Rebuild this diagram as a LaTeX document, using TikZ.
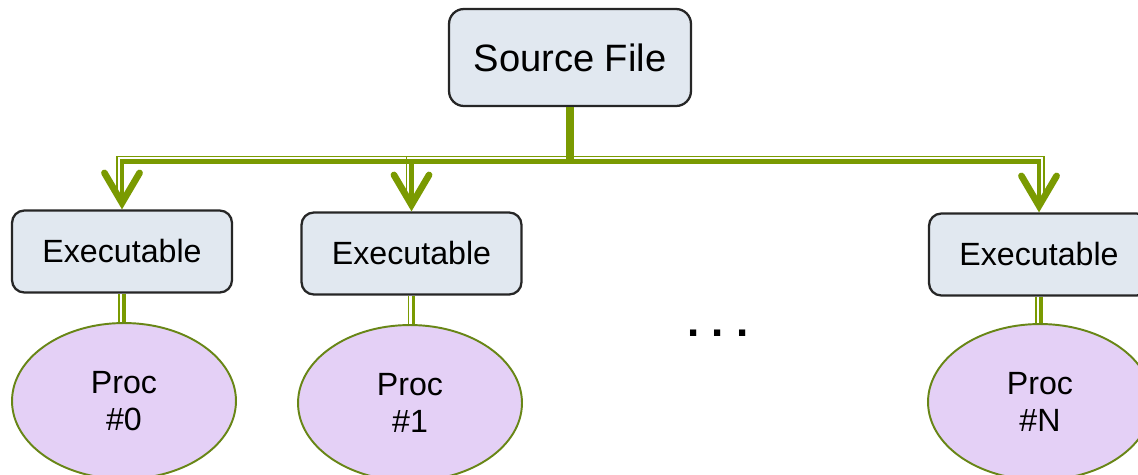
\documentclass[tikz,border=0pt]{standalone}
\usepackage{fontspec}
\setmainfont{Liberation Sans}
\usetikzlibrary{arrows.meta,shapes.geometric,calc}
\definecolor{boxfill}{RGB}{225,232,240}
\definecolor{procfill}{RGB}{228,208,246}
\definecolor{linkgreen}{RGB}{122,154,1}
\definecolor{rimgreen}{RGB}{104,134,22}
\begin{document}
\begin{tikzpicture}[x=0.02cm,y=-0.02cm,
  filebox/.style={draw=black!85, line width=1.3pt, fill=boxfill, inner sep=0pt},
  srcbox/.style={filebox, rounded corners=8.5pt, minimum width=4.84cm, minimum height=1.94cm,
    font=\fontsize{21.7}{26}\selectfont},
  exebox/.style={filebox, rounded corners=7pt, minimum width=4.4cm, minimum height=1.64cm,
    font=\fontsize{18.3}{21}\selectfont},
  procnode/.style={ellipse, draw=rimgreen, line width=1.1pt, fill=procfill,
    minimum width=4.48cm, minimum height=3.12cm, inner sep=0pt, align=center,
    font=\fontsize{18.3}{21}\selectfont},
  trunk/.style={draw=linkgreen, line width=4pt},
  branch/.style={draw=linkgreen, line width=2.4pt,
    -{Straight Barb[length=17pt,width=20pt,line width=3.8pt,line cap=round,line join=miter]}},
  rail/.style={draw=linkgreen, line width=0.8pt},
  stem/.style={draw=linkgreen, line width=2.2pt},
]
\useasboundingbox (0,0) rectangle (1138,474);

% processes (drawn first so the boxes sit on top)
\node[procnode] (p1) at (124,401) {Proc\\\#0};
\node[procnode] (p2) at (410,403) {Proc\\\#1};
\node[procnode] (p3) at (1040,402) {Proc\\\#N};

% source and executables
\node[srcbox] (src) at (570,57.5) {Source File};
\node[exebox] (e1) at (122,251.5) {Executable};
\node[exebox] (e2) at (411.5,253.5) {Executable};
\node[exebox] (e3) at (1039,254.5) {Executable};

% distribution tree
\coordinate (hub) at (570,161.5);
\draw[rail] ($(hub)+(-4,-5)$) -| ($(e1.north)+(-5,-14)$);
\draw[rail] ($(hub)+(-4,-5)$) -| ($(e2.north)+(-5,-14)$);
\draw[rail] ($(hub)+(4,-5)$) -| ($(e3.north)+(5,-14)$);
\draw[branch] (hub) -| (e1.north);
\draw[branch] (hub) -| (e2.north);
\draw[branch] (hub) -| (e3.north);
\draw[trunk] (src.south) -- ($(hub)+(0,2)$);

% executable to process links
\foreach \e/\p in {e1/p1,e2/p2,e3/p3}{
  \draw[rail] ([xshift=-3*0.02cm]\e.south) -- ([xshift=-3*0.02cm]\e.south |- \p.north);
  \draw[stem] ([xshift=2*0.02cm]\e.south) -- ([xshift=2*0.02cm]\e.south |- \p.north);
}

% ellipsis between the processes
\node[font=\fontsize{25}{25}\selectfont\bfseries, inner sep=0pt] (dots) at (718,333) {.\ .\ .};
\end{tikzpicture}
\end{document}
